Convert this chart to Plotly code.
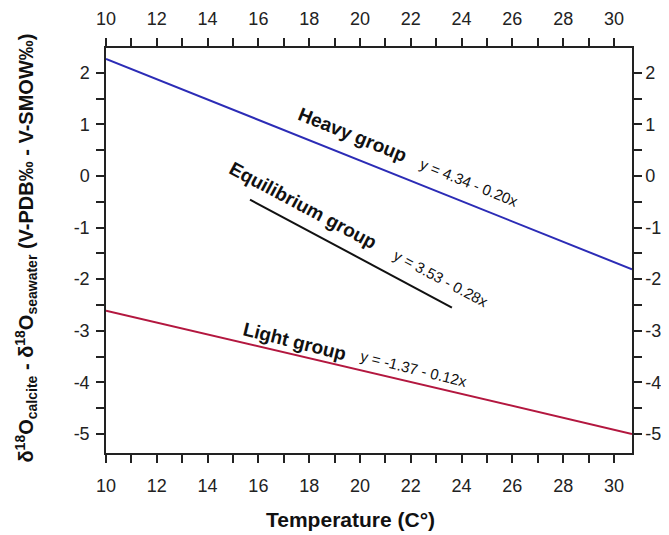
import plotly.graph_objects as go

# Data
temp_range = [10, 30.71]
heavy_y = [2.27, -1.81]
light_y = [-2.61, -5.00]
equil_x = [15.67, 23.62]
equil_y = [-0.46, -2.55]

x_ticks = list(range(10, 31))
x_labels = [str(v) if v % 2 == 0 else "" for v in x_ticks]
y_ticks = [v / 2 for v in range(-10, 5)]
y_labels = [str(int(v)) if v == int(v) else "" for v in y_ticks]

XR = [10, 30.71]
YR = [-5.37, 2.48]
FONT = "Liberation Sans, Arial, sans-serif"

fig = go.Figure()
fig.add_trace(go.Scatter(x=temp_range, y=heavy_y, mode="lines",
                         line=dict(color="#2c2cb6", width=2), showlegend=False))
fig.add_trace(go.Scatter(x=temp_range, y=light_y, mode="lines",
                         line=dict(color="#b3173f", width=2), showlegend=False))
fig.add_trace(go.Scatter(x=equil_x, y=equil_y, mode="lines",
                         line=dict(color="#111111", width=2), showlegend=False))
fig.add_trace(go.Scatter(x=temp_range, y=heavy_y, mode="lines", xaxis="x2", yaxis="y2",
                         line=dict(width=0), opacity=0, showlegend=False, hoverinfo="skip"))


def ax(standoff):
    return dict(showline=True, linecolor="#222", linewidth=1.5, ticks="outside",
                ticklen=8, tickwidth=1.5, tickcolor="#222", showgrid=False, zeroline=False,
                automargin=False, ticklabelstandoff=standoff,
                tickfont=dict(family=FONT, size=18, color="#222"))


# page body adds an 8px offset, so the figure is 8px smaller and margins shifted
fig.update_layout(
    width=661, height=527,
    margin=dict(l=98, r=37, t=40, b=82),
    paper_bgcolor="white", plot_bgcolor="white",
    xaxis=dict(range=XR, tickmode="array", tickvals=x_ticks, ticktext=x_labels, **ax(8)),
    xaxis2=dict(range=XR, overlaying="x", side="top", tickmode="array", tickvals=x_ticks,
                ticktext=x_labels, anchor="y", **ax(6)),
    yaxis=dict(range=YR, tickmode="array", tickvals=y_ticks, ticktext=y_labels, **ax(3)),
    yaxis2=dict(range=YR, overlaying="y", side="right", tickmode="array", tickvals=y_ticks,
                ticktext=y_labels, anchor="x", **ax(0)),
)

bold = dict(family=FONT, size=19, color="#111")
small = dict(family=FONT, size=15, color="#111")
ann = [
    (19.69, 0.80, "<b>Heavy group</b>", bold, 22),
    (24.30, -0.13, "y = 4.34 - 0.20x", small, 22),
    (17.76, -0.58, "<b>Equilibrium group</b>", bold, 28),
    (23.20, -1.98, "y = 3.53 - 0.28x", small, 28),
    (17.44, -3.20, "<b>Light group</b>", bold, 14),
    (22.10, -3.74, "y = -1.37 - 0.12x", small, 14),
]
for x, y, t, f, a in ann:
    fig.add_annotation(x=x, y=y, xref="x", yref="y", text=t, showarrow=False,
                       font=f, textangle=a)

fig.add_annotation(x=0.464, y=-0.165, xref="paper", yref="paper", showarrow=False,
                   xanchor="center", yanchor="middle",
                   text="<b>Temperature (C°)</b>", font=dict(family=FONT, size=21, color="#111"))
fig.add_annotation(x=-0.152, y=0.505, xref="paper", yref="paper", showarrow=False, textangle=-90,
                   xanchor="center", yanchor="middle",
                   text="<b>δ<sup>18</sup>O<sub>calcite</sub> - δ<sup>18</sup>O<sub>seawater</sub> (V-PDB‰ - V-SMOW‰)</b>",
                   font=dict(family=FONT, size=20, color="#111"))

fig.write_html("out.html")
